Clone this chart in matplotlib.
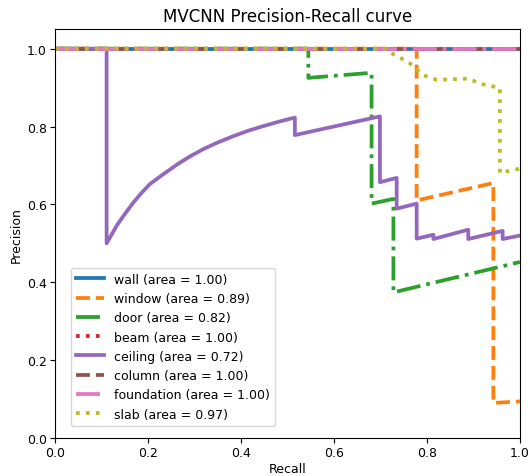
"""MVCNN precision-recall curves per class."""
import matplotlib
matplotlib.use("Agg")
import matplotlib.pyplot as plt

classes = ["wall", "window", "door", "beam", "ceiling", "column", "foundation", "slab"]
areas = [1.00, 0.89, 0.82, 1.00, 0.72, 1.00, 1.00, 0.97]

recall = {
    "wall": [0.0, 1.0],
    "window": [0.0, 0.778, 0.778, 0.943, 0.943, 1.0],
    "door": [0.0, 0.545, 0.545, 0.681, 0.681, 0.728, 0.728, 1.0],
    "beam": [0.0, 1.0],
    "ceiling": [0.0, 0.111, 0.111, 0.133, 0.150, 0.168, 0.185, 0.204, 0.230,
                0.262, 0.290, 0.319, 0.350, 0.383, 0.415, 0.448, 0.480, 0.516,
                0.516, 0.699, 0.699, 0.735, 0.735, 0.778, 0.778, 0.814, 0.814,
                0.889, 0.889, 0.963, 0.963, 1.0],
    "column": [0.0, 1.0],
    "foundation": [0.0, 1.0],
    "slab": [0.0, 0.71, 0.731, 0.760, 0.792, 0.821, 0.890, 0.914, 0.957, 0.957, 1.0],
}
precision = {
    "wall": [1.0, 1.0],
    "window": [1.0, 1.0, 0.610, 0.655, 0.090, 0.094],
    "door": [1.0, 1.0, 0.925, 0.938, 0.602, 0.614, 0.374, 0.452],
    "beam": [1.0, 1.0],
    "ceiling": [1.0, 1.0, 0.500, 0.546, 0.575, 0.604, 0.628, 0.652, 0.675,
                0.702, 0.723, 0.742, 0.759, 0.775, 0.789, 0.801, 0.812, 0.823,
                0.778, 0.826, 0.657, 0.668, 0.589, 0.602, 0.512, 0.522, 0.511,
                0.535, 0.511, 0.532, 0.511, 0.520],
    "column": [1.0, 1.0],
    "foundation": [1.0, 1.0],
    "slab": [1.0, 1.0, 0.983, 0.966, 0.932, 0.920, 0.923, 0.910, 0.899, 0.681, 0.692],
}

colors = ["tab:blue", "tab:orange", "tab:green", "tab:red",
          "tab:purple", "tab:brown", "tab:pink", "tab:olive"]
styles = ["-", "--", "-.", ":"]

plt.rcParams["font.size"] = 9
plt.rcParams["xtick.major.pad"] = 2.5
plt.rcParams["ytick.major.pad"] = 2.5

fig = plt.figure(figsize=(5.31, 4.77), dpi=100)
ax = fig.add_axes([0.1036, 0.0797, 0.8754, 0.857])
for i, name in enumerate(classes):
    ax.plot(recall[name], precision[name], color=colors[i], lw=2.7,
            linestyle=styles[i % 4], label=f"{name} (area = {areas[i]:.2f})")

ax.set_xlim(0, 1)
ax.set_ylim(0, 1.05)
ax.set_xlabel("Recall", labelpad=2)
ax.set_ylabel("Precision", labelpad=3)
ax.set_title("MVCNN Precision-Recall curve", fontsize=12)
ax.legend(loc="lower left", fontsize=9, handlelength=2.3,
          bbox_to_anchor=(0.02, 0.015))

fig.savefig("out.png", dpi=100)
